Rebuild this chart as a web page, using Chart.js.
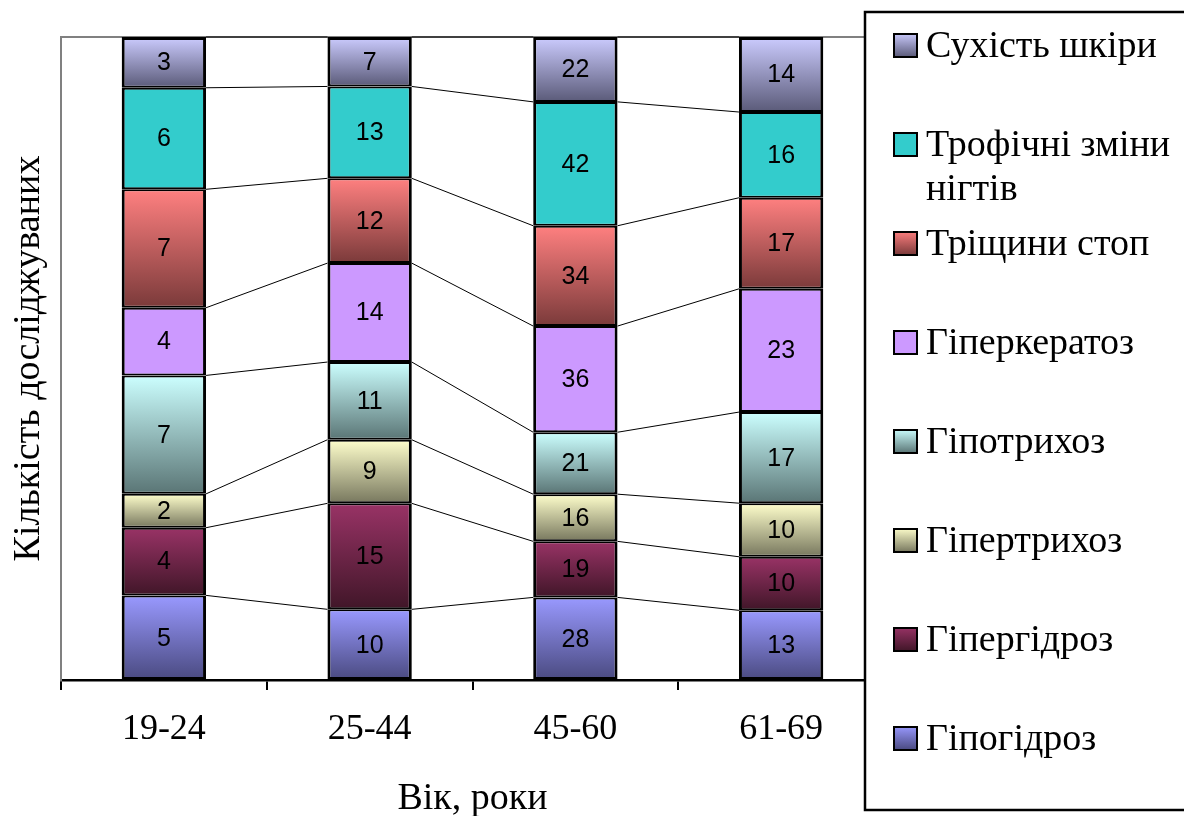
<!DOCTYPE html>
<html>
<head>
<meta charset="utf-8">
<script src="https://cdn.jsdelivr.net/npm/chart.js@4"></script>
<style>
  html, body { margin: 0; padding: 0; background: #fff; }
  #wrap { width: 1184px; height: 816px; position: relative; }
</style>
</head>
<body>
<div id="wrap"><canvas id="chart"></canvas></div>
<script>
const ageGroups = ["19-24", "25-44", "45-60", "61-69"];

// bottom -> top in the stack
const seriesNames = ["Гіпогідроз", "Гіпергідроз", "Гіпертрихоз", "Гіпотрихоз",
  "Гіперкератоз", "Тріщини стоп", "Трофічні зміни нігтів", "Сухість шкіри"];

const hypohidrosis = [5, 10, 28, 13];
const hyperhidrosis = [4, 15, 19, 10];
const hypertrichosis = [2, 9, 16, 10];
const hypotrichosis = [7, 11, 21, 17];
const hyperkeratosis = [4, 14, 36, 23];
const footCracks = [7, 12, 34, 17];
const nailChanges = [6, 13, 42, 16];
const drySkin = [3, 7, 22, 14];

const seriesValues = [hypohidrosis, hyperhidrosis, hypertrichosis, hypotrichosis,
  hyperkeratosis, footCracks, nailChanges, drySkin];

// [top colour, bottom colour]
const seriesColors = [
  ["#9999ff", "#4a4a80"],
  ["#993366", "#401628"],
  ["#ffffcc", "#77775e"],
  ["#ccffff", "#5a7575"],
  ["#cc99ff", "#cc99ff"],
  ["#ff8080", "#7a3a3a"],
  ["#33cccc", "#33cccc"],
  ["#ccccff", "#5a5a78"]
];

const serif = '"Liberation Serif", "Times New Roman", serif';

const totals = ageGroups.map((g, i) => seriesValues.reduce((s, arr) => s + arr[i], 0));

function percentOf(arr) {
  return arr.map((v, i) => v / totals[i] * 100);
}

function cumulative(dsIndex, i) {
  let sum = 0;
  for (let d = 0; d <= dsIndex; d++) sum += seriesValues[d][i] / totals[i] * 100;
  return sum;
}

function segmentFill(context) {
  const chart = context.chart;
  const colors = seriesColors[context.datasetIndex];
  if (!chart.chartArea || context.dataIndex === undefined) return colors[0];
  const y = chart.scales.y;
  const topVal = cumulative(context.datasetIndex, context.dataIndex);
  const top = y.getPixelForValue(topVal);
  const bottom = y.getPixelForValue(topVal - percentOf(seriesValues[context.datasetIndex])[context.dataIndex]);
  if (!isFinite(top) || !isFinite(bottom) || top === bottom) return colors[0];
  const g = chart.ctx.createLinearGradient(0, top, 0, bottom);
  g.addColorStop(0, colors[0]);
  g.addColorStop(1, colors[1]);
  return g;
}

const extrasPlugin = {
  id: 'extras',
  beforeDatasetsDraw(chart) {
    const { ctx, chartArea } = chart;
    ctx.save();
    ctx.strokeStyle = '#808080';
    ctx.lineWidth = 2;
    ctx.beginPath();
    ctx.moveTo(chartArea.left, chartArea.top);
    ctx.lineTo(chartArea.right, chartArea.top);
    ctx.stroke();
    ctx.restore();
  },
  afterDatasetsDraw(chart) {
    const ctx = chart.ctx;
    ctx.save();
    // series lines between bars
    ctx.strokeStyle = '#000';
    ctx.lineWidth = 1;
    chart.data.datasets.forEach((ds, d) => {
      const bars = chart.getDatasetMeta(d).data;
      for (let i = 0; i < bars.length - 1; i++) {
        const a = bars[i], b = bars[i + 1];
        ctx.beginPath();
        ctx.moveTo(a.x + a.width / 2, a.y);
        ctx.lineTo(b.x - b.width / 2, b.y);
        ctx.stroke();
      }
    });
    // value labels
    ctx.fillStyle = '#000';
    ctx.font = '25px "Liberation Sans", Arial, sans-serif';
    ctx.textAlign = 'center';
    ctx.textBaseline = 'middle';
    chart.data.datasets.forEach((ds, d) => {
      const bars = chart.getDatasetMeta(d).data;
      bars.forEach((bar, i) => {
        ctx.fillText(String(seriesValues[d][i]), bar.x, (bar.y + bar.base) / 2 + 1);
      });
    });
    ctx.restore();
  },
  afterDraw(chart) {
    const ctx = chart.ctx;
    ctx.save();
    ctx.fillStyle = '#fff';
    ctx.fillRect(865, 12, 340, 798);
    ctx.strokeStyle = '#000';
    ctx.lineWidth = 2.5;
    ctx.strokeRect(865, 12, 340, 798);
    ctx.font = '38px ' + serif;
    ctx.textBaseline = 'middle';
    ctx.textAlign = 'left';
    const maxW = 1182 - 927;
    for (let k = 0; k < seriesNames.length; k++) {
      const d = seriesNames.length - 1 - k;
      const cy = 45 + 99 * k;
      const g = ctx.createLinearGradient(0, cy - 12, 0, cy + 12);
      g.addColorStop(0, seriesColors[d][0]);
      g.addColorStop(1, seriesColors[d][1]);
      ctx.fillStyle = g;
      ctx.fillRect(894, cy - 11, 23, 23);
      ctx.strokeStyle = '#000';
      ctx.lineWidth = 2;
      ctx.strokeRect(894, cy - 11, 23, 23);
      // wrap label
      const words = seriesNames[d].split(' ');
      const lines = [];
      let line = '';
      words.forEach(w => {
        const test = line ? line + ' ' + w : w;
        if (ctx.measureText(test).width > maxW && line) {
          lines.push(line);
          line = w;
        } else {
          line = test;
        }
      });
      lines.push(line);
      ctx.fillStyle = '#000';
      lines.forEach((l, j) => ctx.fillText(l, 926, cy + 2 + j * 44));
    }
    ctx.restore();
  }
};

new Chart(document.getElementById('chart').getContext('2d'), {
  type: 'bar',
  data: {
    labels: ageGroups,
    datasets: seriesNames.map((name, d) => ({
      label: name,
      data: percentOf(seriesValues[d]),
      backgroundColor: segmentFill,
      borderColor: '#000',
      borderWidth: {
        left: 3,
        right: 3,
        top: d === seriesNames.length - 1 ? 3 : 2,
        bottom: d === 0 ? 3 : 2
      },
      borderSkipped: false,
      categoryPercentage: 1,
      barPercentage: 0.41
    }))
  },
  options: {
    responsive: true,
    maintainAspectRatio: false,
    animation: false,
    layout: { padding: { top: 37, right: 300, left: 0, bottom: 0 } },
    plugins: {
      legend: { display: false },
      tooltip: { enabled: false }
    },
    scales: {
      x: {
        stacked: true,
        afterFit(scale) { scale.height = 136; },
        grid: {
          display: true,
          drawOnChartArea: false,
          drawTicks: true,
          tickLength: 10,
          color: '#000',
          lineWidth: 2
        },
        border: { color: '#000', width: 2.5 },
        ticks: {
          color: '#000',
          padding: 18,
          font: { family: serif, size: 36 }
        },
        title: {
          display: true,
          text: 'Вік, роки',
          color: '#000',
          padding: { top: 0, bottom: -6 },
          font: { family: serif, size: 38 }
        }
      },
      y: {
        stacked: true,
        min: 0,
        max: 100,
        afterFit(scale) { scale.width = 61; },
        grid: { display: false },
        border: { color: '#808080', width: 2 },
        ticks: { display: false },
        title: {
          display: true,
          text: 'Кількість досліджуваних',
          color: '#000',
          padding: { top: 6, bottom: 0 },
          font: { family: serif, size: 38 }
        }
      }
    }
  },
  plugins: [extrasPlugin]
});
</script>
</body>
</html>
